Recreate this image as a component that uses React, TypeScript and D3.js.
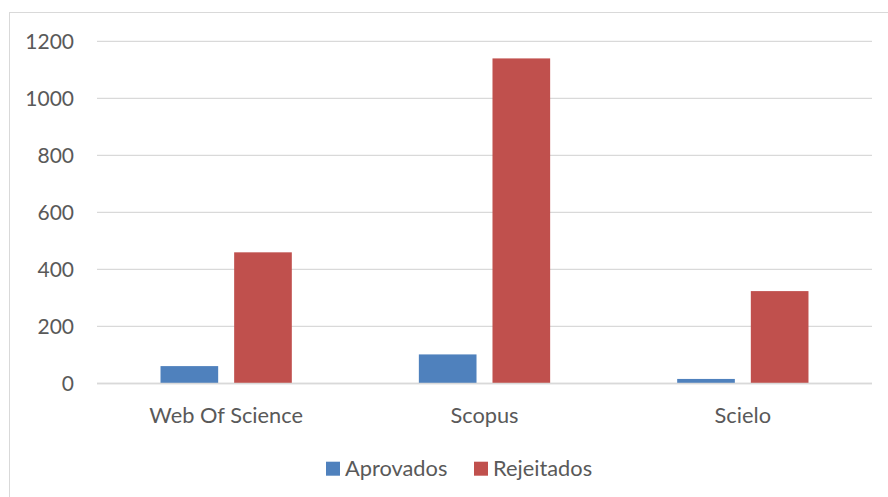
import { useEffect, useRef } from 'react'
import * as d3 from 'd3'

const categories = ['Web Of Science', 'Scopus', 'Scielo']
const seriesNames = ['Aprovados', 'Rejeitados']
const aprovados = [61, 102, 16]
const rejeitados = [460, 1140, 324]
const yTicks = [0, 200, 400, 600, 800, 1000, 1200]

const colors = ['#4f81bd', '#c0504d']

export default function App() {
  const ref = useRef<SVGSVGElement>(null)

  useEffect(() => {
    if (!ref.current) return
    const svg = d3.select(ref.current)
    svg.selectAll('*').remove()

    const W = 888
    const H = 497
    const font = 'Lato, "Open Sans", sans-serif'
    const textColor = '#595959'

    // chart border
    svg
      .append('rect')
      .attr('x', 9.5)
      .attr('y', 12.5)
      .attr('width', W)
      .attr('height', H)
      .attr('fill', 'white')
      .attr('stroke', '#d9d9d9')
      .attr('stroke-width', 1)

    const left = 97
    const right = 872
    const top = 41.3
    const bottom = 383.5

    const y = d3.scaleLinear().domain([0, 1200]).range([bottom, top])
    const x0 = d3.scaleBand<string>().domain(categories).range([left, right]).padding(0)
    const x1 = d3
      .scaleBand<string>()
      .domain(seriesNames)
      .range([0, x0.bandwidth()])
      .paddingInner(0.217)
      .paddingOuter(0.8625)

    // gridlines
    svg
      .append('g')
      .selectAll('line')
      .data(yTicks)
      .join('line')
      .attr('x1', left)
      .attr('x2', right)
      .attr('y1', d => y(d))
      .attr('y2', d => y(d))
      .attr('stroke', '#d9d9d9')
      .attr('stroke-width', 1.3)

    // y labels
    svg
      .append('g')
      .selectAll('text')
      .data(yTicks)
      .join('text')
      .attr('x', 74)
      .attr('y', d => y(d))
      .attr('dy', '0.35em')
      .attr('text-anchor', 'end')
      .style('font-family', font)
      .style('font-size', '21px')
      .style('fill', textColor)
      .text(d => d)

    const data = categories.map((c, i) => ({ cat: c, values: [aprovados[i], rejeitados[i]] }))

    const groups = svg
      .append('g')
      .selectAll('g')
      .data(data)
      .join('g')
      .attr('transform', d => `translate(${x0(d.cat)},0)`)

    groups
      .selectAll('rect')
      .data(d => d.values.map((v, i) => ({ name: seriesNames[i], v, i })))
      .join('rect')
      .attr('x', d => x1(d.name)!)
      .attr('width', x1.bandwidth())
      .attr('y', d => y(d.v))
      .attr('height', d => y(0) - y(d.v))
      .attr('fill', d => colors[d.i])

    // baseline on top of bars
    svg
      .append('line')
      .attr('x1', left)
      .attr('x2', right)
      .attr('y1', y(0))
      .attr('y2', y(0))
      .attr('stroke', '#d9d9d9')
      .attr('stroke-width', 1.3)

    // category labels
    svg
      .append('g')
      .selectAll('text')
      .data(categories)
      .join('text')
      .attr('x', d => x0(d)! + x0.bandwidth() / 2)
      .attr('y', 422.5)
      .attr('text-anchor', 'middle')
      .style('font-family', font)
      .style('font-size', '21.8px')
      .style('fill', textColor)
      .text(d => d)

    // legend
    const legendX = [326, 474]
    const legend = svg
      .append('g')
      .selectAll('g')
      .data(seriesNames)
      .join('g')
      .attr('transform', (_, i) => `translate(${legendX[i]},461.7)`)

    legend
      .append('rect')
      .attr('width', 14)
      .attr('height', 14)
      .attr('fill', (_, i) => colors[i])

    legend
      .append('text')
      .attr('x', 19)
      .attr('y', 7)
      .attr('dy', '0.35em')
      .style('font-family', font)
      .style('font-size', '21.8px')
      .style('fill', textColor)
      .text(d => d)
  }, [])

  return (
    <div style={{ position: 'fixed', left: 0, top: 0 }}>
      <svg ref={ref} width={888} height={497} style={{ display: 'block' }} />
    </div>
  )
}
